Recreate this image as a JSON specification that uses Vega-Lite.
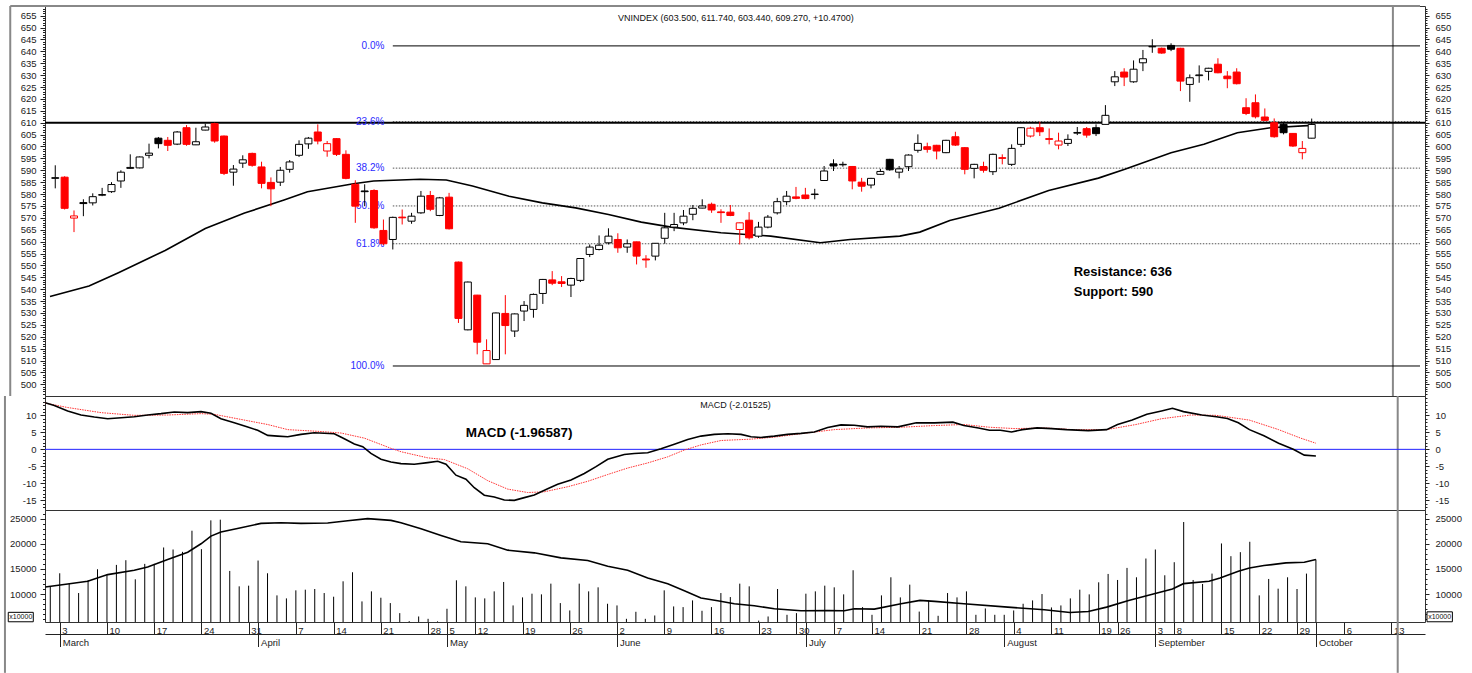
{
"$schema": "https://vega.github.io/schema/vega-lite/v6.json",
"padding": {"left": 3, "top": 4, "right": 5, "bottom": 0},
"background": "white",
"bounds": "flush",
"spacing": 0,
"config": {
  "view": {"stroke": "#333", "strokeWidth": 1},
  "axis": {"labelFont": "Liberation Sans", "labelFontSize": 9.5, "labelColor": "#222", "tickColor": "#222", "grid": false, "title": null, "domain": false, "labelFlush": false, "labelOverlap": false}
},
"datasets": {
"c": [
{"i":0,"o":586.6,"h":592.1,"l":582.4,"c":586.9,"k":"bu","v":11527},
{"i":1,"o":587.1,"h":587.5,"l":573.5,"c":574.0,"k":"rd","v":14128},
{"i":2,"o":569.9,"h":573.1,"l":564.0,"c":570.8,"k":"ru","v":12060},
{"i":3,"o":576.4,"h":577.8,"l":570.7,"c":576.0,"k":"bd","v":10193},
{"i":4,"o":576.3,"h":580.3,"l":575.2,"c":578.9,"k":"bu","v":12727},
{"i":5,"o":579.5,"h":582.6,"l":579.1,"c":579.8,"k":"bu","v":14928},
{"i":6,"o":581.0,"h":585.0,"l":580.5,"c":584.0,"k":"bu","v":13861},
{"i":7,"o":585.5,"h":590.0,"l":582.6,"c":589.2,"k":"bu","v":15795},
{"i":8,"o":590.8,"h":596.7,"l":590.6,"c":591.2,"k":"bu","v":16729},
{"i":9,"o":591.0,"h":595.8,"l":590.8,"c":595.6,"k":"bu","v":12927},
{"i":10,"o":596.3,"h":601.2,"l":595.0,"c":597.2,"k":"bu","v":15996},
{"i":11,"o":603.5,"h":604.0,"l":599.2,"c":601.2,"k":"bd","v":16000},
{"i":12,"o":602.6,"h":604.0,"l":598.1,"c":600.5,"k":"rd","v":19264},
{"i":13,"o":601.0,"h":606.5,"l":600.6,"c":606.1,"k":"bu","v":18864},
{"i":14,"o":607.9,"h":609.0,"l":600.3,"c":600.9,"k":"rd","v":18397},
{"i":15,"o":600.7,"h":607.9,"l":600.6,"c":602.0,"k":"bu","v":22599},
{"i":16,"o":606.9,"h":609.6,"l":606.8,"c":608.2,"k":"bu","v":18930},
{"i":17,"o":609.6,"h":610.0,"l":601.6,"c":602.3,"k":"rd","v":24666},
{"i":18,"o":604.4,"h":604.6,"l":588.0,"c":588.7,"k":"rd","v":24800},
{"i":19,"o":589.2,"h":592.2,"l":583.5,"c":590.5,"k":"bu","v":14594},
{"i":20,"o":593.0,"h":596.3,"l":591.0,"c":594.4,"k":"bu","v":11527},
{"i":21,"o":597.1,"h":597.4,"l":591.5,"c":592.1,"k":"rd","v":11660},
{"i":22,"o":591.4,"h":593.6,"l":582.4,"c":584.5,"k":"rd","v":16662},
{"i":23,"o":584.9,"h":587.0,"l":574.9,"c":582.2,"k":"rd","v":14128},
{"i":24,"o":585.0,"h":591.4,"l":583.4,"c":590.0,"k":"bu","v":9726},
{"i":25,"o":590.4,"h":594.3,"l":589.0,"c":593.5,"k":"bu","v":9125},
{"i":26,"o":596.3,"h":602.6,"l":595.6,"c":600.9,"k":"bu","v":10726},
{"i":27,"o":601.1,"h":604.0,"l":599.0,"c":603.5,"k":"bu","v":10860},
{"i":28,"o":606.1,"h":609.3,"l":600.9,"c":602.3,"k":"rd","v":10993},
{"i":29,"o":598.1,"h":602.3,"l":595.7,"c":601.2,"k":"ru","v":10193},
{"i":30,"o":603.3,"h":603.5,"l":596.0,"c":596.7,"k":"rd","v":9459},
{"i":31,"o":596.7,"h":598.4,"l":586.2,"c":586.6,"k":"rd","v":12527},
{"i":32,"o":584.1,"h":585.8,"l":567.9,"c":574.9,"k":"rd","v":14328},
{"i":33,"o":581.3,"h":584.1,"l":574.9,"c":581.0,"k":"bd","v":8525},
{"i":34,"o":581.5,"h":582.0,"l":565.4,"c":565.8,"k":"rd","v":10526},
{"i":35,"o":564.7,"h":569.3,"l":558.5,"c":559.1,"k":"rd","v":9259},
{"i":36,"o":560.9,"h":570.5,"l":556.7,"c":570.2,"k":"bu","v":8192},
{"i":37,"o":570.3,"h":573.5,"l":567.2,"c":570.0,"k":"rd","v":6190},
{"i":38,"o":568.6,"h":572.1,"l":567.5,"c":570.7,"k":"bu","v":4600},
{"i":39,"o":572.1,"h":581.3,"l":571.7,"c":579.1,"k":"bu","v":5524},
{"i":40,"o":579.4,"h":581.3,"l":572.8,"c":573.6,"k":"rd","v":5058},
{"i":41,"o":571.0,"h":578.8,"l":570.7,"c":578.4,"k":"bu","v":4550},
{"i":42,"o":578.7,"h":580.5,"l":565.1,"c":565.4,"k":"rd","v":7058},
{"i":43,"o":551.4,"h":551.6,"l":525.8,"c":527.7,"k":"rd","v":12727},
{"i":44,"o":522.9,"h":543.2,"l":522.7,"c":543.0,"k":"bu","v":11527},
{"i":45,"o":537.5,"h":537.6,"l":512.6,"c":517.7,"k":"rd","v":9326},
{"i":46,"o":508.6,"h":518.9,"l":508.6,"c":514.2,"k":"ru","v":9125},
{"i":47,"o":510.4,"h":530.2,"l":510.3,"c":530.0,"k":"bu","v":10526},
{"i":48,"o":529.8,"h":537.5,"l":512.6,"c":524.7,"k":"rd","v":12394},
{"i":49,"o":522.4,"h":529.8,"l":519.9,"c":529.6,"k":"bu","v":7725},
{"i":50,"o":530.8,"h":535.0,"l":526.6,"c":533.2,"k":"bu","v":9326},
{"i":51,"o":531.5,"h":538.2,"l":528.0,"c":537.8,"k":"bu","v":10060},
{"i":52,"o":538.2,"h":544.3,"l":533.8,"c":544.1,"k":"bu","v":9926},
{"i":53,"o":543.9,"h":547.6,"l":541.7,"c":542.5,"k":"rd","v":12060},
{"i":54,"o":543.1,"h":545.5,"l":540.9,"c":542.4,"k":"rd","v":8192},
{"i":55,"o":541.7,"h":544.8,"l":536.7,"c":544.5,"k":"bu","v":6724},
{"i":56,"o":543.7,"h":553.0,"l":543.0,"c":552.9,"k":"bu","v":12060},
{"i":57,"o":554.6,"h":558.8,"l":553.5,"c":557.7,"k":"bu","v":10526},
{"i":58,"o":556.7,"h":562.6,"l":556.3,"c":558.5,"k":"bu","v":11327},
{"i":59,"o":559.5,"h":565.6,"l":558.8,"c":562.3,"k":"bu","v":8058},
{"i":60,"o":560.9,"h":563.5,"l":555.3,"c":557.4,"k":"rd","v":7725},
{"i":61,"o":557.7,"h":560.9,"l":555.3,"c":559.1,"k":"bu","v":5058},
{"i":62,"o":559.9,"h":560.0,"l":550.4,"c":553.9,"k":"rd","v":6457},
{"i":63,"o":552.7,"h":554.3,"l":549.0,"c":552.3,"k":"rd","v":5058},
{"i":64,"o":553.9,"h":559.4,"l":552.1,"c":559.3,"k":"bu","v":5724},
{"i":65,"o":561.4,"h":572.1,"l":559.1,"c":565.8,"k":"bu","v":10726},
{"i":66,"o":566.1,"h":572.1,"l":564.4,"c":567.2,"k":"bu","v":7525},
{"i":67,"o":567.9,"h":573.3,"l":566.9,"c":570.7,"k":"bu","v":7391},
{"i":68,"o":571.5,"h":575.4,"l":569.0,"c":574.0,"k":"bu","v":8725},
{"i":69,"o":574.1,"h":577.8,"l":574.0,"c":575.0,"k":"bu","v":6658},
{"i":70,"o":575.7,"h":576.4,"l":572.1,"c":573.3,"k":"rd","v":7391},
{"i":71,"o":572.5,"h":573.6,"l":567.9,"c":572.2,"k":"rd","v":10193},
{"i":72,"o":572.4,"h":575.4,"l":570.7,"c":571.0,"k":"rd","v":9392},
{"i":73,"o":565.1,"h":568.0,"l":558.8,"c":567.9,"k":"ru","v":12060},
{"i":74,"o":569.0,"h":572.4,"l":560.9,"c":561.6,"k":"rd","v":11527},
{"i":75,"o":562.3,"h":568.3,"l":561.6,"c":566.1,"k":"bu","v":4700},
{"i":76,"o":566.1,"h":571.2,"l":565.6,"c":570.3,"k":"bu","v":5524},
{"i":77,"o":572.1,"h":578.4,"l":571.4,"c":576.8,"k":"bu","v":10993},
{"i":78,"o":576.8,"h":581.3,"l":575.4,"c":579.1,"k":"bu","v":5858},
{"i":79,"o":578.8,"h":583.0,"l":577.8,"c":578.2,"k":"rd","v":6191},
{"i":80,"o":579.6,"h":582.6,"l":577.8,"c":578.1,"k":"rd","v":10060},
{"i":81,"o":579.8,"h":582.2,"l":577.8,"c":580.0,"k":"bu","v":10526},
{"i":82,"o":585.7,"h":591.8,"l":585.5,"c":589.7,"k":"bu","v":11660},
{"i":83,"o":592.7,"h":594.6,"l":589.7,"c":591.8,"k":"bd","v":11327},
{"i":84,"o":592.3,"h":593.6,"l":591.5,"c":592.5,"k":"bu","v":9926},
{"i":85,"o":591.6,"h":591.8,"l":582.0,"c":585.5,"k":"rd","v":14728},
{"i":86,"o":585.0,"h":586.8,"l":581.0,"c":583.3,"k":"rd","v":7391},
{"i":87,"o":583.8,"h":586.8,"l":582.4,"c":586.6,"k":"bu","v":5858},
{"i":88,"o":588.3,"h":590.6,"l":588.0,"c":589.5,"k":"bu","v":9726},
{"i":89,"o":594.6,"h":594.8,"l":589.8,"c":590.2,"k":"bd","v":13327},
{"i":90,"o":589.2,"h":591.8,"l":586.6,"c":590.6,"k":"bu","v":9326},
{"i":91,"o":591.5,"h":596.7,"l":589.7,"c":596.4,"k":"bu","v":11860},
{"i":92,"o":598.4,"h":605.1,"l":597.4,"c":601.3,"k":"bu","v":6500},
{"i":93,"o":599.9,"h":601.6,"l":597.4,"c":598.8,"k":"rd","v":8725},
{"i":94,"o":600.5,"h":600.7,"l":594.6,"c":598.1,"k":"rd","v":5658},
{"i":95,"o":597.4,"h":602.8,"l":597.2,"c":602.6,"k":"bu","v":10193},
{"i":96,"o":604.1,"h":606.2,"l":600.2,"c":600.6,"k":"rd","v":9326},
{"i":97,"o":599.5,"h":599.7,"l":588.3,"c":590.4,"k":"rd","v":10526},
{"i":98,"o":590.8,"h":592.7,"l":586.6,"c":592.5,"k":"bu","v":5858},
{"i":99,"o":591.6,"h":593.6,"l":589.0,"c":590.0,"k":"rd","v":7125},
{"i":100,"o":589.4,"h":597.0,"l":588.0,"c":596.7,"k":"bu","v":5858},
{"i":101,"o":595.3,"h":596.7,"l":592.5,"c":595.0,"k":"rd","v":5858},
{"i":102,"o":592.5,"h":600.9,"l":591.8,"c":599.2,"k":"bu","v":6724},
{"i":103,"o":600.9,"h":608.2,"l":599.8,"c":607.9,"k":"bu","v":8058},
{"i":104,"o":604.4,"h":608.3,"l":603.8,"c":607.7,"k":"ru","v":8725},
{"i":105,"o":607.9,"h":610.4,"l":604.4,"c":606.2,"k":"rd","v":9993},
{"i":106,"o":603.3,"h":607.6,"l":600.9,"c":603.0,"k":"rd","v":7325},
{"i":107,"o":600.6,"h":605.8,"l":598.8,"c":602.3,"k":"ru","v":7725},
{"i":108,"o":601.3,"h":605.1,"l":600.2,"c":603.0,"k":"bu","v":9125},
{"i":109,"o":605.6,"h":608.2,"l":604.8,"c":605.9,"k":"bu","v":10860},
{"i":110,"o":607.5,"h":608.2,"l":603.7,"c":604.8,"k":"rd","v":9926},
{"i":111,"o":607.9,"h":609.3,"l":604.4,"c":605.4,"k":"bd","v":12327},
{"i":112,"o":609.3,"h":617.4,"l":609.3,"c":613.1,"k":"bu","v":13994},
{"i":113,"o":627.2,"h":631.7,"l":625.4,"c":629.3,"k":"bu","v":12794},
{"i":114,"o":631.3,"h":632.9,"l":625.4,"c":629.2,"k":"rd","v":15195},
{"i":115,"o":627.2,"h":636.2,"l":626.8,"c":632.5,"k":"bu","v":13327},
{"i":116,"o":635.2,"h":640.6,"l":631.7,"c":636.9,"k":"bu","v":17063},
{"i":117,"o":641.9,"h":645.1,"l":639.4,"c":642.1,"k":"bu","v":18864},
{"i":118,"o":641.3,"h":641.6,"l":639.0,"c":639.3,"k":"rd","v":13728},
{"i":119,"o":642.5,"h":643.4,"l":640.1,"c":640.9,"k":"bd","v":16329},
{"i":120,"o":641.3,"h":641.5,"l":623.3,"c":627.5,"k":"rd","v":24333},
{"i":121,"o":626.1,"h":630.3,"l":618.8,"c":628.9,"k":"bu","v":12794},
{"i":122,"o":629.8,"h":634.1,"l":626.8,"c":630.1,"k":"bu","v":11994},
{"i":123,"o":631.6,"h":633.1,"l":627.8,"c":632.9,"k":"bu","v":14061},
{"i":124,"o":634.6,"h":637.1,"l":630.8,"c":631.0,"k":"rd","v":20064},
{"i":125,"o":629.6,"h":631.7,"l":624.5,"c":628.5,"k":"rd","v":17530},
{"i":126,"o":631.3,"h":632.9,"l":626.1,"c":626.4,"k":"rd","v":18330},
{"i":127,"o":616.3,"h":620.3,"l":613.2,"c":613.9,"k":"rd","v":20398},
{"i":128,"o":618.4,"h":621.9,"l":611.8,"c":612.5,"k":"rd","v":9726},
{"i":129,"o":612.4,"h":616.0,"l":610.7,"c":611.0,"k":"rd","v":12994},
{"i":130,"o":610.0,"h":611.8,"l":603.7,"c":604.1,"k":"rd","v":11060},
{"i":131,"o":609.3,"h":610.4,"l":605.1,"c":605.8,"k":"bd","v":13327},
{"i":132,"o":605.5,"h":605.6,"l":599.8,"c":600.2,"k":"rd","v":10993},
{"i":133,"o":597.4,"h":602.3,"l":594.6,"c":599.2,"k":"ru","v":14061},
{"i":134,"o":603.5,"h":611.74,"l":603.44,"c":609.27,"k":"bu","v":16862}
],
"ma": [
{"i":-0.56,"p":536.9},{"i":3.6,"p":541.3},{"i":6.74,"p":546.9},{"i":9.92,"p":552.9},{"i":11.72,"p":556.3},{"i":16,"p":565.5},{"i":20.19,"p":572.0},{"i":24.4,"p":577.5},{"i":26.9,"p":581.0},{"i":31.8,"p":584.3},{"i":33.95,"p":585.5},{"i":38.9,"p":586.2},{"i":41.7,"p":585.9},{"i":44.5,"p":583.4},{"i":48.4,"p":579.1},{"i":51.95,"p":576.3},{"i":55.5,"p":574.2},{"i":59.0,"p":571.4},{"i":62.5,"p":568.2},{"i":65.7,"p":566.1},{"i":71.0,"p":563.7},{"i":76.3,"p":562.3},{"i":81.6,"p":559.5},{"i":84.77,"p":560.9},{"i":90.07,"p":562.3},{"i":92.2,"p":564.0},{"i":95.4,"p":568.9},{"i":100.65,"p":574.0},{"i":105.95,"p":581.5},{"i":111.25,"p":586.7},{"i":114.07,"p":590.4},{"i":119.0,"p":597.4},{"i":122.5,"p":600.9},{"i":126.07,"p":605.8},{"i":129.6,"p":607.9},{"i":134,"p":608.9}
],
"macd": [
{"i":-0.53,"m":13.7},{"i":0.42,"m":12.9},{"i":1.84,"m":11.3},{"i":3.25,"m":10.1},{"i":4.66,"m":9.5},{"i":6.08,"m":9.0},{"i":7.49,"m":9.3},{"i":8.89,"m":9.6},{"i":10.31,"m":10.1},{"i":11.72,"m":10.5},{"i":13.13,"m":11.0},{"i":14.55,"m":10.8},{"i":15.96,"m":11.1},{"i":17.01,"m":10.6},{"i":18.07,"m":9.0},{"i":19.48,"m":7.8},{"i":20.9,"m":6.6},{"i":21.96,"m":5.6},{"i":23.02,"m":4.1},{"i":24.08,"m":3.9},{"i":25.14,"m":3.7},{"i":26.54,"m":4.4},{"i":27.95,"m":4.9},{"i":30.07,"m":4.6},{"i":31.13,"m":3.1},{"i":32.19,"m":1.6},{"i":33.08,"m":0.8},{"i":33.95,"m":-1.2},{"i":35.01,"m":-2.9},{"i":36.07,"m":-3.7},{"i":37.13,"m":-4.2},{"i":38.54,"m":-4.4},{"i":39.96,"m":-3.9},{"i":41.02,"m":-3.5},{"i":41.9,"m":-4.4},{"i":42.95,"m":-7.6},{"i":44.01,"m":-8.8},{"i":44.89,"m":-11.3},{"i":45.95,"m":-13.5},{"i":47.01,"m":-14.0},{"i":48.07,"m":-14.9},{"i":49.13,"m":-15.0},{"i":50.19,"m":-14.2},{"i":51.24,"m":-13.4},{"i":52.66,"m":-11.6},{"i":53.72,"m":-10.3},{"i":55.13,"m":-9.0},{"i":56.54,"m":-7.1},{"i":57.78,"m":-5.1},{"i":59.02,"m":-2.9},{"i":60.77,"m":-1.5},{"i":61.83,"m":-1.2},{"i":63.25,"m":-1.0},{"i":64.66,"m":0.2},{"i":66.07,"m":1.5},{"i":67.49,"m":2.9},{"i":68.89,"m":3.9},{"i":70.3,"m":4.4},{"i":71.72,"m":4.6},{"i":73.13,"m":4.4},{"i":74.19,"m":3.7},{"i":75.25,"m":3.5},{"i":76.66,"m":3.9},{"i":78.07,"m":4.4},{"i":79.48,"m":4.7},{"i":80.89,"m":5.1},{"i":82.31,"m":6.4},{"i":83.72,"m":7.2},{"i":85.13,"m":7.1},{"i":86.54,"m":6.6},{"i":87.95,"m":6.8},{"i":89.75,"m":6.6},{"i":91.69,"m":7.8},{"i":93.63,"m":7.8},{"i":95.56,"m":8.0},{"i":96.73,"m":7.0},{"i":98.27,"m":6.3},{"i":99.44,"m":5.6},{"i":100.6,"m":5.6},{"i":101.77,"m":5.1},{"i":102.92,"m":5.8},{"i":104.48,"m":6.3},{"i":106.02,"m":6.1},{"i":107.58,"m":5.8},{"i":109.9,"m":5.5},{"i":111.84,"m":5.8},{"i":113.0,"m":7.3},{"i":114.55,"m":8.6},{"i":116.1,"m":10.3},{"i":117.65,"m":11.3},{"i":118.81,"m":12.1},{"i":119.98,"m":11.1},{"i":121.92,"m":10.1},{"i":123.46,"m":9.6},{"i":124.63,"m":9.1},{"i":125.79,"m":7.8},{"i":126.96,"m":5.8},{"i":128.5,"m":4.0},{"i":130.05,"m":1.8},{"i":131.6,"m":0.0},{"i":132.77,"m":-1.7},{"i":134,"m":-1.97}
],
"sig": [
{"i":-0.53,"s":13.6},{"i":1.84,"s":12.3},{"i":5.37,"s":10.8},{"i":8.89,"s":10.0},{"i":12.43,"s":10.1},{"i":15.96,"s":10.5},{"i":17.36,"s":10.3},{"i":20.19,"s":8.8},{"i":23.02,"s":7.3},{"i":25.14,"s":5.8},{"i":28.31,"s":5.3},{"i":30.78,"s":4.8},{"i":33.25,"s":3.3},{"i":36.07,"s":0.3},{"i":37.13,"s":-0.7},{"i":39.96,"s":-2.5},{"i":41.72,"s":-3.0},{"i":44.19,"s":-5.7},{"i":46.31,"s":-9.2},{"i":48.43,"s":-11.7},{"i":50.55,"s":-12.7},{"i":52.3,"s":-12.5},{"i":54.78,"s":-11.0},{"i":56.9,"s":-9.4},{"i":59.02,"s":-7.4},{"i":61.13,"s":-5.5},{"i":63.25,"s":-4.0},{"i":65.37,"s":-2.2},{"i":67.13,"s":-0.2},{"i":68.89,"s":1.3},{"i":71.01,"s":2.6},{"i":74.19,"s":3.0},{"i":76.66,"s":3.6},{"i":79.48,"s":4.6},{"i":83.0,"s":5.8},{"i":86.54,"s":6.3},{"i":90.07,"s":6.5},{"i":93.63,"s":7.0},{"i":96.73,"s":7.3},{"i":99.44,"s":6.5},{"i":102.15,"s":6.1},{"i":105.25,"s":6.3},{"i":108.35,"s":5.8},{"i":111.84,"s":5.8},{"i":114.94,"s":7.3},{"i":117.65,"s":9.0},{"i":120.75,"s":10.1},{"i":123.46,"s":10.0},{"i":126.96,"s":8.6},{"i":130.05,"s":5.8},{"i":132.38,"s":3.3},{"i":134,"s":1.8}
],
"vma": [
{"i":-0.53,"v":11394},{"i":1.84,"v":11994},{"i":3.96,"v":12527},{"i":6.08,"v":13861},{"i":8.89,"v":14728},{"i":10.31,"v":15395},{"i":12.43,"v":16862},{"i":14.55,"v":18330},{"i":15.96,"v":19997},{"i":17.01,"v":21531},{"i":18.07,"v":22332},{"i":20.19,"v":23199},{"i":22.31,"v":24066},{"i":24.42,"v":24200},{"i":26.54,"v":24066},{"i":29.37,"v":24133},{"i":31.49,"v":24600},{"i":33.6,"v":25000},{"i":36.07,"v":24666},{"i":37.13,"v":24200},{"i":39.25,"v":23000},{"i":41.37,"v":21665},{"i":43.48,"v":20398},{"i":46.31,"v":19998},{"i":48.43,"v":18730},{"i":51.24,"v":18197},{"i":54.07,"v":17196},{"i":56.9,"v":16662},{"i":59.02,"v":15528},{"i":61.13,"v":14728},{"i":63.25,"v":13194},{"i":65.37,"v":12060},{"i":67.13,"v":10659},{"i":68.89,"v":9192},{"i":70.66,"v":8658},{"i":72.42,"v":8058},{"i":74.54,"v":7658},{"i":76.66,"v":7058},{"i":79.48,"v":6658},{"i":82.31,"v":6724},{"i":84.07,"v":6658},{"i":85.13,"v":7058},{"i":87.24,"v":6991},{"i":90.07,"v":8058},{"i":92.08,"v":8725},{"i":93.63,"v":8525},{"i":96.73,"v":8058},{"i":101.38,"v":7391},{"i":105.25,"v":6858},{"i":107.96,"v":6324},{"i":109.9,"v":6524},{"i":111.84,"v":7391},{"i":114.17,"v":8725},{"i":116.88,"v":10059},{"i":118.81,"v":10993},{"i":119.98,"v":12060},{"i":122.69,"v":12527},{"i":123.85,"v":13194},{"i":125.79,"v":14528},{"i":126.96,"v":15195},{"i":128.5,"v":15662},{"i":130.83,"v":16196},{"i":132.77,"v":16329},{"i":134,"v":16862}
],
"fib": [
{"lvl":"0.0%","p":642.3},{"lvl":"23.6%","p":610.5},{"lvl":"38.2%","p":590.9},{"lvl":"50.0%","p":575.0},{"lvl":"61.8%","p":559.1},{"lvl":"100.0%","p":507.7}
]
},
"vconcat": [
{
"width": 1380, "height": 390,
"resolve": {"axis": {"y": "independent"}},
"layer": [
{"data": {"values": [{}]}, "mark": {"type": "rule", "color": "#888", "strokeWidth": 2},
 "encoding": {"x": {"datum": -4.8, "type": "quantitative", "scale": {"domain": [-0.56, 145.55], "nice": false, "zero": false}, "axis": null}}},
{"data": {"values": [{}]}, "mark": {"type": "rule", "color": "#888", "strokeWidth": 2},
 "encoding": {"x": {"datum": 142.66, "type": "quantitative", "scale": {"domain": [-0.56, 145.55], "nice": false, "zero": false}, "axis": null}}},
{"data": {"values": [{}]}, "mark": {"type": "rule", "color": "#888", "strokeWidth": 2},
 "encoding": {"x": {"datum": -4.8, "type": "quantitative", "scale": {"domain": [-0.56, 145.55], "nice": false, "zero": false}, "axis": null},
  "x2": {"datum": 145.55},
  "y": {"datum": 659.08, "type": "quantitative", "scale": {"domain": [495.08, 659.08], "nice": false, "zero": false}, "axis": null}}},
{"data": {"values": [{}]}, "mark": {"type": "rule", "color": "#000", "strokeWidth": 2},
 "encoding": {"y": {"datum": 610.0, "type": "quantitative", "scale": {"domain": [495.08, 659.08], "nice": false, "zero": false}, "axis": null}}},
{"data": {"name": "fib"}, "transform": [{"filter": "datum.lvl == '0.0%' || datum.lvl == '100.0%'"}],
 "mark": {"type": "rule", "color": "#000", "strokeWidth": 1},
 "encoding": {"x": {"datum": 36.0, "type": "quantitative", "scale": {"domain": [-0.56, 145.55], "nice": false, "zero": false}, "axis": null},
  "x2": {"datum": 145.55},
  "y": {"field": "p", "type": "quantitative", "scale": {"domain": [495.08, 659.08], "nice": false, "zero": false}, "axis": null}}},
{"data": {"name": "fib"}, "transform": [{"filter": "datum.lvl != '0.0%' && datum.lvl != '100.0%'"}],
 "mark": {"type": "rule", "color": "#555", "strokeWidth": 1, "strokeDash": [1.5, 1.5]},
 "encoding": {"x": {"datum": 36.0, "type": "quantitative", "scale": {"domain": [-0.56, 145.55], "nice": false, "zero": false}, "axis": null},
  "x2": {"datum": 145.55},
  "y": {"field": "p", "type": "quantitative", "scale": {"domain": [495.08, 659.08], "nice": false, "zero": false},
   "axis": {"orient": "right", "values": [496,497,498,499,500,501,502,503,504,505,506,507,508,509,510,511,512,513,514,515,516,517,518,519,520,521,522,523,524,525,526,527,528,529,530,531,532,533,534,535,536,537,538,539,540,541,542,543,544,545,546,547,548,549,550,551,552,553,554,555,556,557,558,559,560,561,562,563,564,565,566,567,568,569,570,571,572,573,574,575,576,577,578,579,580,581,582,583,584,585,586,587,588,589,590,591,592,593,594,595,596,597,598,599,600,601,602,603,604,605,606,607,608,609,610,611,612,613,614,615,616,617,618,619,620,621,622,623,624,625,626,627,628,629,630,631,632,633,634,635,636,637,638,639,640,641,642,643,644,645,646,647,648,649,650,651,652,653,654,655,656,657,658], "tickSize": 2, "labels": false}}}},
{"data": {"name": "fib"},
 "mark": {"type": "text", "align": "right", "baseline": "middle", "fontSize": 10, "font": "Liberation Sans", "color": "#2a2aff"},
 "encoding": {"x": {"datum": 35.1, "type": "quantitative", "scale": {"domain": [-0.56, 145.55], "nice": false, "zero": false}, "axis": null},
  "y": {"field": "p", "type": "quantitative", "scale": {"domain": [495.08, 659.08], "nice": false, "zero": false}, "axis": null},
  "text": {"field": "lvl"}}},
{"data": {"name": "ma"}, "mark": {"type": "line", "color": "#000", "strokeWidth": 1.6},
 "encoding": {"x": {"field": "i", "type": "quantitative", "scale": {"domain": [-0.56, 145.55], "nice": false, "zero": false}, "axis": null},
  "y": {"field": "p", "type": "quantitative", "scale": {"domain": [495.08, 659.08], "nice": false, "zero": false},
   "axis": {"orient": "left", "values": [496,497,498,499,500,501,502,503,504,505,506,507,508,509,510,511,512,513,514,515,516,517,518,519,520,521,522,523,524,525,526,527,528,529,530,531,532,533,534,535,536,537,538,539,540,541,542,543,544,545,546,547,548,549,550,551,552,553,554,555,556,557,558,559,560,561,562,563,564,565,566,567,568,569,570,571,572,573,574,575,576,577,578,579,580,581,582,583,584,585,586,587,588,589,590,591,592,593,594,595,596,597,598,599,600,601,602,603,604,605,606,607,608,609,610,611,612,613,614,615,616,617,618,619,620,621,622,623,624,625,626,627,628,629,630,631,632,633,634,635,636,637,638,639,640,641,642,643,644,645,646,647,648,649,650,651,652,653,654,655,656,657,658], "tickSize": 2.5, "labels": false}}}},
{"data": {"name": "c"}, "mark": {"type": "rule", "strokeWidth": 1},
 "encoding": {"x": {"field": "i", "type": "quantitative", "scale": {"domain": [-0.56, 145.55], "nice": false, "zero": false}, "axis": null},
  "y": {"field": "l", "type": "quantitative", "scale": {"domain": [495.08, 659.08], "nice": false, "zero": false},
   "axis": {"orient": "left", "values": [500,505,510,515,520,525,530,535,540,545,550,555,560,565,570,575,580,585,590,595,600,605,610,615,620,625,630,635,640,645,650,655], "tickSize": 5, "labelPadding": 4, "labelExpr": "'' + datum.value"}},
  "y2": {"field": "h"},
  "stroke": {"field": "k", "type": "nominal", "scale": {"domain": ["bu","bd","ru","rd"], "range": ["#000000","#000000","#ff0000","#ff0000"]}, "legend": null}}},
{"data": {"name": "c"}, "mark": {"type": "bar", "width": 7, "strokeWidth": 1},
 "encoding": {"x": {"field": "i", "type": "quantitative", "scale": {"domain": [-0.56, 145.55], "nice": false, "zero": false}, "axis": null},
  "y": {"field": "o", "type": "quantitative", "scale": {"domain": [495.08, 659.08], "nice": false, "zero": false},
   "axis": {"orient": "right", "values": [500,505,510,515,520,525,530,535,540,545,550,555,560,565,570,575,580,585,590,595,600,605,610,615,620,625,630,635,640,645,650,655], "tickSize": 4, "labelPadding": 6, "labelExpr": "'' + datum.value"}},
  "y2": {"field": "c"},
  "stroke": {"field": "k", "type": "nominal", "scale": {"domain": ["bu","bd","ru","rd"], "range": ["#000000","#000000","#ff0000","#ff0000"]}, "legend": null},
  "fill": {"field": "k", "type": "nominal", "scale": {"domain": ["bu","bd","ru","rd"], "range": ["#ffffff","#000000","#ffffff","#ff0000"]}, "legend": null}}},
{"data": {"values": [{}]}, "mark": {"type": "text", "align": "center", "baseline": "middle", "fontSize": 9, "font": "Liberation Sans", "color": "#111"},
 "encoding": {"x": {"datum": 72.6, "type": "quantitative", "scale": {"domain": [-0.56, 145.55], "nice": false, "zero": false}, "axis": null},
  "y": {"datum": 654.0, "type": "quantitative", "scale": {"domain": [495.08, 659.08], "nice": false, "zero": false}, "axis": null},
  "text": {"value": "VNINDEX (603.500, 611.740, 603.440, 609.270, +10.4700)"}}},
{"data": {"values": [{}]}, "mark": {"type": "text", "align": "left", "baseline": "middle", "fontSize": 13, "fontWeight": "bold", "font": "Liberation Sans", "color": "#000"},
 "encoding": {"x": {"datum": 108.62, "type": "quantitative", "scale": {"domain": [-0.56, 145.55], "nice": false, "zero": false}, "axis": null},
  "y": {"datum": 547.2, "type": "quantitative", "scale": {"domain": [495.08, 659.08], "nice": false, "zero": false}, "axis": null},
  "text": {"value": "Resistance: 636"}}},
{"data": {"values": [{}]}, "mark": {"type": "text", "align": "left", "baseline": "middle", "fontSize": 13, "fontWeight": "bold", "font": "Liberation Sans", "color": "#000"},
 "encoding": {"x": {"datum": 108.62, "type": "quantitative", "scale": {"domain": [-0.56, 145.55], "nice": false, "zero": false}, "axis": null},
  "y": {"datum": 538.8, "type": "quantitative", "scale": {"domain": [495.08, 659.08], "nice": false, "zero": false}, "axis": null},
  "text": {"value": "Support: 590"}}}
]
},
{
"width": 1380, "height": 114,
"resolve": {"axis": {"y": "independent"}},
"layer": [
{"data": {"values": [{}]}, "mark": {"type": "rule", "color": "#888", "strokeWidth": 2},
 "encoding": {"x": {"datum": -4.8, "type": "quantitative", "scale": {"domain": [-0.56, 145.55], "nice": false, "zero": false}, "axis": null}}},
{"data": {"values": [{}]}, "mark": {"type": "rule", "color": "#888", "strokeWidth": 2},
 "encoding": {"x": {"datum": 142.66, "type": "quantitative", "scale": {"domain": [-0.56, 145.55], "nice": false, "zero": false}, "axis": null}}},
{"data": {"values": [{}]}, "mark": {"type": "rule", "color": "#2222ff", "strokeWidth": 1},
 "encoding": {"y": {"datum": 0, "type": "quantitative", "scale": {"domain": [-17.84, 15.69], "nice": false, "zero": false},
   "axis": {"orient": "right", "values": [-15,-10,-5,0,5,10], "tickSize": 4, "labelPadding": 6, "labelExpr": "'' + datum.value"}}}},
{"data": {"name": "sig"}, "mark": {"type": "line", "color": "#ff3030", "strokeWidth": 1, "strokeDash": [1.5, 1]},
 "encoding": {"x": {"field": "i", "type": "quantitative", "scale": {"domain": [-0.56, 145.55], "nice": false, "zero": false}, "axis": null},
  "y": {"field": "s", "type": "quantitative", "scale": {"domain": [-17.84, 15.69], "nice": false, "zero": false},
   "axis": {"orient": "left", "values": [-17,-16,-15,-14,-13,-12,-11,-10,-9,-8,-7,-6,-5,-4,-3,-2,-1,0,1,2,3,4,5,6,7,8,9,10,11,12,13,14,15], "tickSize": 2.5, "labels": false}}}},
{"data": {"name": "macd"}, "mark": {"type": "line", "color": "#000", "strokeWidth": 1.6},
 "encoding": {"x": {"field": "i", "type": "quantitative", "scale": {"domain": [-0.56, 145.55], "nice": false, "zero": false}, "axis": null},
  "y": {"field": "m", "type": "quantitative", "scale": {"domain": [-17.84, 15.69], "nice": false, "zero": false},
   "axis": {"orient": "left", "values": [-15,-10,-5,0,5,10], "tickSize": 5, "labelPadding": 4, "labelExpr": "'' + datum.value"}}}},
{"data": {"values": [{}]}, "mark": {"type": "text", "align": "center", "baseline": "middle", "fontSize": 9, "font": "Liberation Sans", "color": "#111"},
 "encoding": {"x": {"datum": 72.55, "type": "quantitative", "scale": {"domain": [-0.56, 145.55], "nice": false, "zero": false}, "axis": null},
  "y": {"datum": 13.04, "type": "quantitative", "scale": {"domain": [-17.84, 15.69], "nice": false, "zero": false},
   "axis": {"orient": "right", "values": [-17,-16,-15,-14,-13,-12,-11,-10,-9,-8,-7,-6,-5,-4,-3,-2,-1,0,1,2,3,4,5,6,7,8,9,10,11,12,13,14,15], "tickSize": 2, "labels": false}},
  "text": {"value": "MACD (-2.01525)"}}},
{"data": {"values": [{}]}, "mark": {"type": "text", "align": "left", "baseline": "middle", "fontSize": 13.5, "fontWeight": "bold", "font": "Liberation Sans", "color": "#000"},
 "encoding": {"x": {"datum": 44.0, "type": "quantitative", "scale": {"domain": [-0.56, 145.55], "nice": false, "zero": false}, "axis": null},
  "y": {"datum": 4.8, "type": "quantitative", "scale": {"domain": [-17.84, 15.69], "nice": false, "zero": false}, "axis": null},
  "text": {"value": "MACD (-1.96587)"}}}
]
},
{
"width": 1380, "height": 112,
"resolve": {"axis": {"y": "independent", "x": "independent"}},
"layer": [
{"data": {"values": [{}]}, "mark": {"type": "rule", "color": "#888", "strokeWidth": 2},
 "encoding": {"x": {"datum": -4.8, "type": "quantitative", "scale": {"domain": [-0.56, 145.55], "nice": false, "zero": false}, "axis": null},
  "y": {"datum": 26726, "type": "quantitative", "scale": {"domain": [4425, 26726], "nice": false, "zero": false}, "axis": null},
  "y2": {"datum": -5700}}},
{"data": {"values": [{}]}, "mark": {"type": "rule", "color": "#888", "strokeWidth": 2},
 "encoding": {"x": {"datum": 142.66, "type": "quantitative", "scale": {"domain": [-0.56, 145.55], "nice": false, "zero": false}, "axis": null},
  "y": {"datum": 26726, "type": "quantitative", "scale": {"domain": [4425, 26726], "nice": false, "zero": false}, "axis": null},
  "y2": {"datum": -5700}}},
{"data": {"name": "c"}, "mark": {"type": "rule", "color": "#000", "strokeWidth": 1},
 "encoding": {"x": {"field": "i", "type": "quantitative", "scale": {"domain": [-0.56, 145.55], "nice": false, "zero": false},
   "axis": {"orient": "bottom", "values": [1,6,11,16,21,22,26,30,35,40,42,45,50,55,60,65,70,75,79,80,83,87,92,97,101,102,106,111,113,117,119,124,128,132,134,137,142],
    "labelExpr": "['3','10','17','24','31','','7','14','21','28','5','12','19','26','2','9','16','23','30','','7','14','21','28','','4','11','19','26','3','8','15','22','29','','6','13'][indexof([1,6,11,16,21,22,26,30,35,40,42,45,50,55,60,65,70,75,79,80,83,87,92,97,101,102,106,111,113,117,119,124,128,132,134,137,142], datum.value)]",
    "tickSize": 12, "labelPadding": -8.5, "labelAlign": "left", "labelBaseline": "top", "labelOffset": 2}},
  "y": {"field": "v", "type": "quantitative", "scale": {"domain": [4425, 26726], "nice": false, "zero": false},
   "axis": {"orient": "left", "values": [10000,15000,20000,25000], "tickSize": 5, "labelPadding": 4, "labelExpr": "'' + datum.value"}},
  "y2": {"datum": 4425}}},
{"data": {"name": "vma"}, "mark": {"type": "line", "color": "#000", "strokeWidth": 1.6},
 "encoding": {"x": {"field": "i", "type": "quantitative", "scale": {"domain": [-0.56, 145.55], "nice": false, "zero": false},
   "axis": {"orient": "bottom", "offset": 12, "values": [1,22,42,60,80,101,117,134],
    "labelExpr": "['March','April','May','June','July','August','September','October'][indexof([1,22,42,60,80,101,117,134], datum.value)]",
    "tickSize": 12.5, "labelPadding": -9.5, "labelAlign": "left", "labelBaseline": "top", "labelOffset": 2.5, "domain": true, "domainColor": "#222"}},
  "y": {"field": "v", "type": "quantitative", "scale": {"domain": [4425, 26726], "nice": false, "zero": false},
   "axis": {"orient": "left", "values": [5000,6000,7000,8000,9000,10000,11000,12000,13000,14000,15000,16000,17000,18000,19000,20000,21000,22000,23000,24000,25000,26000], "tickSize": 2.5, "labels": false}}}},
{"data": {"values": [{}]}, "mark": {"type": "rect", "fill": "white", "stroke": "#000", "strokeWidth": 1},
 "encoding": {"x": {"datum": -4.45, "type": "quantitative", "scale": {"domain": [-0.56, 145.55], "nice": false, "zero": false}, "axis": null},
  "x2": {"datum": -1.8},
  "y": {"datum": 4470, "type": "quantitative", "scale": {"domain": [4425, 26726], "nice": false, "zero": false},
   "axis": {"orient": "right", "values": [10000,15000,20000,25000], "tickSize": 4, "labelPadding": 6, "labelExpr": "'' + datum.value"}},
  "y2": {"datum": 6350}}},
{"data": {"values": [{}]}, "mark": {"type": "rect", "fill": "white", "stroke": "#000", "strokeWidth": 1},
 "encoding": {"x": {"datum": 145.76, "type": "quantitative", "scale": {"domain": [-0.56, 145.55], "nice": false, "zero": false}, "axis": null},
  "x2": {"datum": 148.45},
  "y": {"datum": 4470, "type": "quantitative", "scale": {"domain": [4425, 26726], "nice": false, "zero": false},
   "axis": {"orient": "right", "values": [5000,6000,7000,8000,9000,10000,11000,12000,13000,14000,15000,16000,17000,18000,19000,20000,21000,22000,23000,24000,25000,26000], "tickSize": 2, "labels": false}},
  "y2": {"datum": 6450}}},
{"data": {"values": [{}]}, "mark": {"type": "text", "align": "center", "baseline": "middle", "fontSize": 7, "font": "Liberation Sans", "color": "#111"},
 "encoding": {"x": {"datum": -3.12, "type": "quantitative", "scale": {"domain": [-0.56, 145.55], "nice": false, "zero": false}, "axis": null},
  "y": {"datum": 5410, "type": "quantitative", "scale": {"domain": [4425, 26726], "nice": false, "zero": false}, "axis": null},
  "text": {"value": "x10000"}}},
{"data": {"values": [{}]}, "mark": {"type": "text", "align": "center", "baseline": "middle", "fontSize": 7, "font": "Liberation Sans", "color": "#111"},
 "encoding": {"x": {"datum": 147.1, "type": "quantitative", "scale": {"domain": [-0.56, 145.55], "nice": false, "zero": false}, "axis": null},
  "y": {"datum": 5460, "type": "quantitative", "scale": {"domain": [4425, 26726], "nice": false, "zero": false}, "axis": null},
  "text": {"value": "x10000"}}}
]
}
]
}
